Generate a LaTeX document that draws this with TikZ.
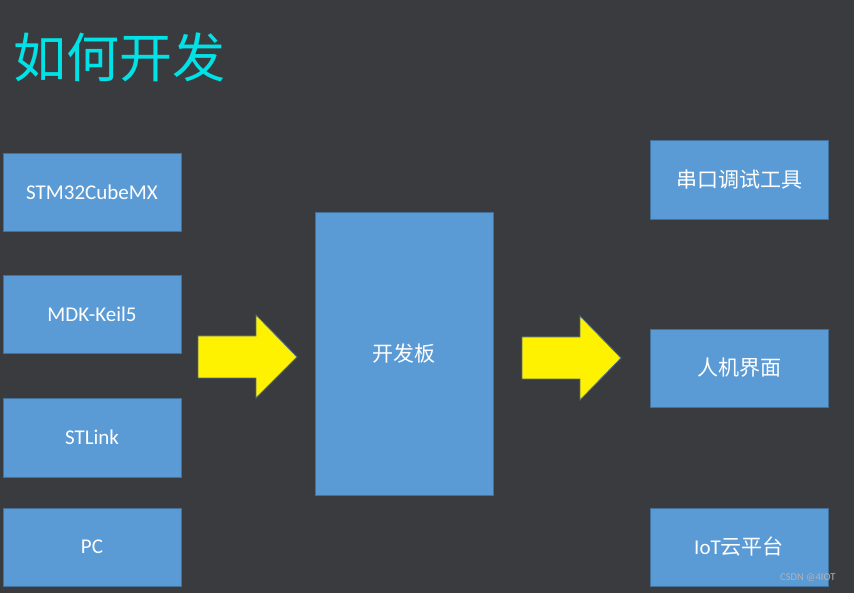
\documentclass[tikz,border=0pt]{standalone}
\usepackage{fontspec}
\setmainfont{Carlito}
\newfontfamily\cjk{Noto Sans CJK SC}
\definecolor{bgc}{RGB}{58,59,63}
\definecolor{boxc}{RGB}{91,155,213}
\definecolor{boxline}{RGB}{65,113,156}
\definecolor{titlec}{RGB}{0,226,230}
\definecolor{arrline}{RGB}{80,110,140}
\begin{document}
\begin{tikzpicture}[x=1pt,y=-1pt,
  blk/.style={draw=boxline,line width=0.8pt,fill=boxc,text=white,font=\fontsize{21}{24}\selectfont,inner sep=0pt},
  bigarrow/.style={draw=arrline,line width=0.8pt,fill=yellow},
  wm/.style={text=gray!60,font=\fontsize{10.5}{12}\selectfont,inner sep=0pt}]
\fill[bgc] (0,0) rectangle (854,593);
\useasboundingbox (0,0) rectangle (854,593);
\node[anchor=west,text=titlec,font=\cjk\fontsize{53}{60}\selectfont,inner sep=0pt] (title) at (13,57) {如何开发};
% left column
\node[blk,minimum width=178pt,minimum height=78pt] (cube) at (92,192) {STM32CubeMX};
\node[blk,minimum width=178pt,minimum height=78pt] (mdk) at (92,314) {MDK-Keil5};
\node[blk,minimum width=178pt,minimum height=79pt] (stlink) at (92,437.5) {STLink};
\node[blk,minimum width=178pt,minimum height=78pt] (pc) at (92,547) {PC};
% center
\node[blk,minimum width=178pt,minimum height=283pt] (board) at (404,353.5) {\cjk 开发板};
% right column
\node[blk,minimum width=178pt,minimum height=79pt] (serial) at (739,179.5) {\cjk 串口调试工具};
\node[blk,minimum width=178pt,minimum height=78pt] (hmi) at (739,368) {\cjk 人机界面};
\node[blk,minimum width=178pt,minimum height=78pt] (iot) at (739,547) {IoT{\cjk 云平台}};
% block arrows
\draw[bigarrow] (198,336) -- (256,336) -- (256,315) -- (297,357) -- (256,398) -- (256,378) -- (198,378) -- cycle;
\draw[bigarrow] (522,337) -- (580,337) -- (580,316) -- (621,358) -- (580,400) -- (580,379) -- (522,379) -- cycle;
% watermark
\node[wm,anchor=west] (mark) at (780,578) {CSDN @4IOT};
\end{tikzpicture}
\end{document}
